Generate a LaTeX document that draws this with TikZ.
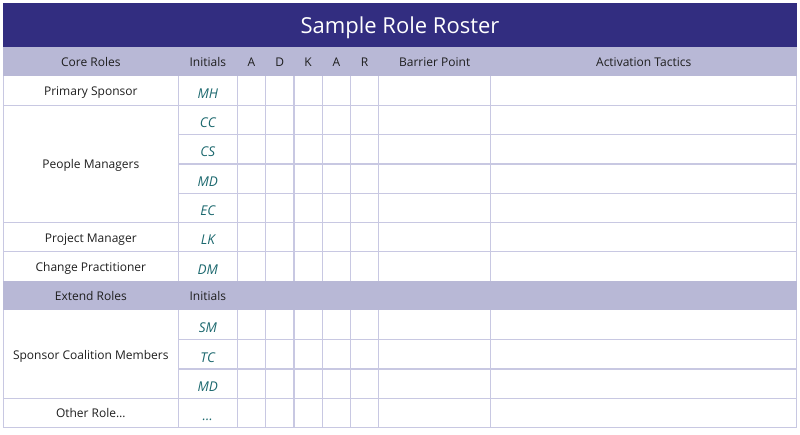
\documentclass[tikz,border=0pt]{standalone}
\usepackage{fontspec}
\setmainfont{Open Sans}
\usepackage{tikz}
\usetikzlibrary{positioning}

\definecolor{rosterblue}{RGB}{50,45,128}
\definecolor{rosterhead}{RGB}{184,184,214}
\definecolor{rostergrid}{RGB}{200,200,226}
\definecolor{rosterink}{RGB}{28,104,110}
\definecolor{rostertext}{RGB}{30,30,30}

\tikzset{
  cell/.style={font=\fontsize{12}{14}\selectfont, text=rostertext, inner sep=0pt, anchor=base},
  initials/.style={font=\fontsize{13.5}{15}\selectfont\itshape, text=rosterink, inner sep=0pt, anchor=base},
  gridline/.style={draw=rostergrid, line width=1.3pt}
}

\begin{document}
\begin{tikzpicture}[x=1pt,y=-1pt]
    \useasboundingbox (0,0) rectangle (800,434);

    % Title bar
    \fill[rosterblue] (3.3,3.3) rectangle (796.7,47);
    \node[font=\fontsize{22}{26}\selectfont, text=white, inner sep=0pt, anchor=base] (title) at (400,33.2) {Sample Role Roster};

    % Header rows
    \fill[rosterhead] (3.3,47) rectangle (796.7,76);
    \fill[rosterhead] (3.3,281.1) rectangle (796.7,310.4);

    % Grid columns
    \foreach \x in {178.3,237.3,265.7,294,322.3,350.7,378.7,490.7} {
        \draw[gridline] (\x,76) -- (\x,281.1);
        \draw[gridline] (\x,310.4) -- (\x,427.6);
    }
    % Grid rows
    \foreach \y in {105.3,134.6,163.9,193.2,222.5,251.8,339.7,369,398.3}
        \draw[gridline] (178.3,\y) -- (796.7,\y);
    \foreach \y in {105.3,222.5,251.8,398.3}
        \draw[gridline] (3.3,\y) -- (178.3,\y);
    % Outer border
    \draw[gridline] (3.3,76) -- (3.3,281.1) (796.7,76) -- (796.7,281.1);
    \draw[gridline] (3.3,310.4) -- (3.3,427.6) -- (796.7,427.6) -- (796.7,310.4);

    % Header labels
    \node[cell] (hcore) at (90.8,66.5) {Core Roles};
    \node[cell] (hinit) at (207.8,66.5) {Initials};
    \foreach \x/\l [count=\i] in {251.5/A,279.8/D,308.1/K,336.5/A,364.7/R}
        \node[cell] (hadkar\i) at (\x,66.5) {\l};
    \node[cell] (hbarrier) at (434.7,66.5) {Barrier Point};
    \node[cell] (htactics) at (643.7,66.5) {Activation Tactics};

    % Roles
    \node[cell] (sponsor) at (90.8,95.6) {Primary Sponsor};
    \node[cell] (managers) at (90.8,168.6) {People Managers};
    \node[cell] (pm) at (90.8,242) {Project Manager};
    \node[cell] (practitioner) at (90.8,271.3) {Change Practitioner};
    \node[cell] (hextend) at (90.8,300.7) {Extend Roles};
    \node[cell] (hinit2) at (207.8,300.7) {Initials};
    \node[cell] (coalition) at (90.8,359.2) {Sponsor Coalition Members};
    \node[cell] (other) at (90.8,417.9) {Other Role\ldots};

    % Initials
    \foreach \k/\t in {0/MH,1/CC,2/CS,3/MD,4/EC,5/LK,6/DM,8/SM,9/TC,10/MD,11/\ldots}
        \node[initials] (ini\k) at (207.8,98.3+29.3*\k) {\t};
\end{tikzpicture}
\end{document}
